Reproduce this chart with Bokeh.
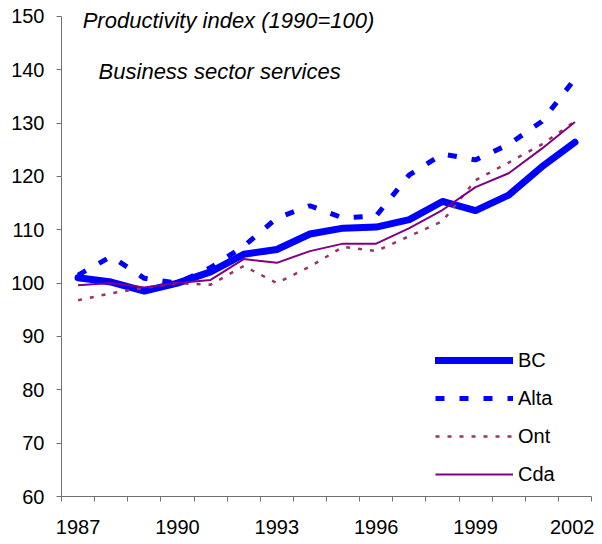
from bokeh.plotting import figure
from bokeh.models import Range1d, FixedTicker, Label, Legend, LegendItem, ColumnDataSource
from bokeh.embed import file_html
from bokeh.resources import INLINE

years = list(range(1987, 2003))
bc = [101.0, 100.2, 98.5, 100.0, 102.1, 105.4, 106.3, 109.2, 110.3, 110.5, 111.9, 115.3, 113.6, 116.5, 121.8, 126.4]
alta = [101.5, 105.0, 100.9, 100.0, 102.9, 106.9, 112.2, 114.5, 112.2, 112.6, 120.3, 124.2, 123.1, 126.0, 130.3, 138.3]
ont = [96.8, 98.1, 99.1, 100.0, 99.7, 103.2, 100.0, 103.1, 106.8, 106.0, 108.8, 111.6, 119.3, 122.6, 126.0, 130.3]
cda = [99.6, 100.0, 99.2, 100.0, 100.6, 104.5, 103.8, 106.0, 107.4, 107.4, 110.3, 113.7, 118.0, 120.6, 125.2, 130.2]
x_labels = [1987, 1990, 1993, 1996, 1999, 2002]
y_ticks = list(range(60, 151, 10))
title1 = "Productivity index (1990=100)"
title2 = "Business sector services"

FONT = "Liberation Sans"
AX = "#707070"
Y_MIN, Y_MAX = 60, 150
PX_PER_UNIT = (500 - 16) / (Y_MAX - Y_MIN)
Y_TOP = Y_MIN + 500 / PX_PER_UNIT  # frame extends to top so titles are not clipped

src = ColumnDataSource(dict(year=years, bc=bc, alta=alta, ont=ont, cda=cda))

p = figure(width=594, height=536, output_backend="svg", toolbar_location=None,
           x_range=Range1d(years[0] - 0.5, years[-1] + 0.5), y_range=Range1d(Y_MIN, Y_TOP),
           min_border_left=61, min_border_right=3, min_border_top=0, min_border_bottom=36)
p.outline_line_color = None
p.xgrid.visible = False
p.ygrid.visible = False
p.background_fill_color = "white"

# x axis: labels centered in categories, ticks between categories
xa = p.xaxis[0]
xa.ticker = FixedTicker(ticks=x_labels, minor_ticks=[y - 0.5 for y in years] + [years[-1] + 0.5])
xa.major_tick_out = 0
xa.major_tick_in = 0
xa.minor_tick_out = 5
xa.minor_tick_in = 0
xa.minor_tick_line_color = AX
xa.axis_line_color = AX
xa.major_label_text_font = FONT
xa.major_label_text_font_size = "20px"
xa.major_label_text_color = "black"
xa.major_label_standoff = 18

ya = p.yaxis[0]
ya.ticker = FixedTicker(ticks=y_ticks, minor_ticks=[])
ya.bounds = (Y_MIN, Y_MAX)
ya.major_tick_out = 5
ya.major_tick_in = 0
ya.major_tick_line_color = AX
ya.axis_line_color = AX
ya.major_label_text_font = FONT
ya.major_label_text_font_size = "20px"
ya.major_label_text_color = "black"
ya.major_label_standoff = 12

r_bc = p.line("year", "bc", source=src, line_color="#0000FF", line_width=7,
              line_join="round", line_cap="round")
r_alta = p.line("year", "alta", source=src, line_color="#0000FF", line_width=5,
                line_dash="9 15")
r_ont = p.line("year", "ont", source=src, line_color="#993366", line_width=2.5,
               line_dash="4 8")
r_cda = p.line("year", "cda", source=src, line_color="#800080", line_width=2)

legend = Legend(items=[LegendItem(label="BC", renderers=[r_bc]),
                       LegendItem(label="Alta", renderers=[r_alta]),
                       LegendItem(label="Ont", renderers=[r_ont]),
                       LegendItem(label="Cda", renderers=[r_cda])],
                location=(374, 3), glyph_width=78, glyph_height=38, spacing=0,
                padding=0, margin=0, label_standoff=5,
                label_text_font=FONT, label_text_font_size="20px", label_text_color="black",
                border_line_color=None, background_fill_alpha=0)
p.add_layout(legend)

p.add_layout(Label(x=1987.14, y=149.3, text=title1, text_font=FONT, text_font_size="22px",
                   text_font_style="italic", text_baseline="middle", text_color="black"))
p.add_layout(Label(x=1987.62, y=139.6, text=title2, text_font=FONT, text_font_size="22px",
                   text_font_style="italic", text_baseline="middle", text_color="black"))

open("out.html", "w").write(file_html(p, INLINE))
